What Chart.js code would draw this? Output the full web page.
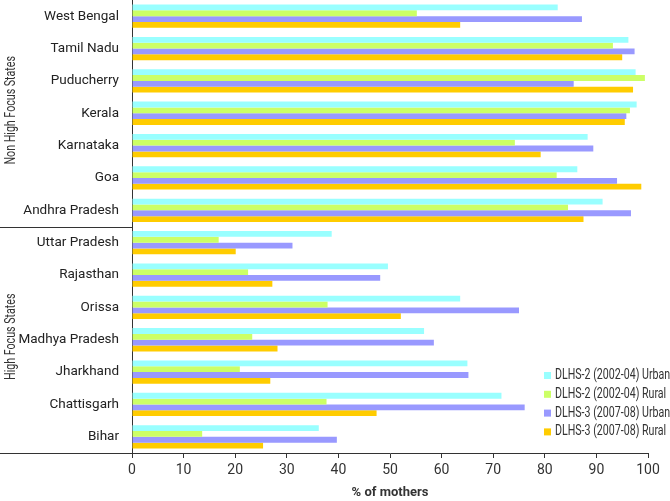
<!DOCTYPE html>
<html>
<head>
<meta charset="utf-8">
<script src="https://cdn.jsdelivr.net/npm/chart.js@4.4.1/dist/chart.umd.min.js"></script>
<style>
    html, body { margin: 0; padding: 0; background: #fff; }
    #wrap { width: 670px; height: 501px; position: relative; }
</style>
</head>
<body>
<div id="wrap"><canvas id="chart"></canvas></div>
<script>
// Top-to-bottom order as in the source figure
const states = [
    'West Bengal', 'Tamil Nadu', 'Puducherry', 'Kerala', 'Karnataka', 'Goa', 'Andhra Pradesh',
    'Uttar Pradesh', 'Rajasthan', 'Orissa', 'Madhya Pradesh', 'Jharkhand', 'Chattisgarh', 'Bihar',
];
const groupLabels = ['Non High Focus States', 'High Focus States'];
const seriesLabels = [
    'DLHS-2 (2002-04) Urban',
    'DLHS-2 (2002-04) Rural',
    'DLHS-3 (2007-08) Urban',
    'DLHS-3 (2007-08) Rural',
];
const dlhs2Urban = [82.5, 96.2, 97.6, 97.8, 88.3, 86.3, 91.2, 38.7, 49.6, 63.6, 56.6, 65.0, 71.6, 36.2];
const dlhs2Rural = [55.2, 93.2, 99.4, 96.5, 74.2, 82.3, 84.5, 16.8, 22.5, 37.9, 23.3, 20.9, 37.7, 13.6];
const dlhs3Urban = [87.2, 97.4, 85.6, 95.8, 89.4, 94.0, 96.7, 31.1, 48.1, 75.0, 58.5, 65.2, 76.1, 39.7];
const dlhs3Rural = [63.6, 95.0, 97.1, 95.5, 79.2, 98.7, 87.5, 20.1, 27.2, 52.1, 28.2, 26.8, 47.4, 25.4];
const xTicks = [0, 10, 20, 30, 40, 50, 60, 70, 80, 90, 100];
const xTitle = '% of mothers';

const colors = ['#99ffff', '#ccff66', '#9999ff', '#ffcc00'];
const FONT = 'Roboto, "Liberation Sans", sans-serif';
const INK = '#333333';

// the source uses a condensed face; squeeze canvas text horizontally
function narrowText(ctx, text, x, y, squeeze) {
    ctx.save();
    ctx.translate(x, y);
    ctx.scale(squeeze, 1);
    ctx.fillText(text, 0, 0);
    ctx.restore();
}

// frame lines + rotated group names in the label column, plus inset legend
const decor = {
    id: 'decor',
    afterDraw(chart) {
        const { ctx, chartArea: a, scales: { y } } = chart;
        const split = (y.getPixelForTick(6) + y.getPixelForTick(7)) / 2;
        ctx.save();
        ctx.strokeStyle = INK;
        ctx.lineWidth = 1;
        ctx.beginPath();
        ctx.moveTo(0, Math.round(split) + 0.5);
        ctx.lineTo(a.left, Math.round(split) + 0.5);
        ctx.moveTo(0, Math.round(a.bottom) + 0.5);
        ctx.lineTo(a.left, Math.round(a.bottom) + 0.5);
        ctx.stroke();

        ctx.fillStyle = INK;
        ctx.font = '14px ' + FONT;
        ctx.textAlign = 'center';
        ctx.textBaseline = 'middle';
        [[a.top, split], [split, a.bottom]].forEach(([t, b], i) => {
            ctx.save();
            ctx.translate(11, (t + b) / 2 - 3);
            ctx.rotate(-Math.PI / 2);
            narrowText(ctx, groupLabels[i], 0, 0, 0.76);
            ctx.restore();
        });

        ctx.textAlign = 'left';
        chart.data.datasets.forEach((ds, i) => {
            const cy = 375.5 + i * 18.8;
            ctx.fillStyle = ds.backgroundColor;
            ctx.fillRect(544, cy - 3.5, 7, 7);
            ctx.fillStyle = INK;
            narrowText(ctx, ds.label, 555, cy, 0.76);
        });
        ctx.restore();
    },
};

const seriesData = [dlhs2Urban, dlhs2Rural, dlhs3Urban, dlhs3Rural];

new Chart(document.getElementById('chart'), {
    type: 'bar',
    data: {
        labels: states,
        datasets: seriesLabels.map((label, i) => ({
            label,
            data: seriesData[i],
            backgroundColor: colors[i],
            borderWidth: 0,
            categoryPercentage: 0.72,
            barPercentage: 1.0,
        })),
    },
    options: {
        indexAxis: 'y',
        responsive: true,
        maintainAspectRatio: false,
        animation: false,
        layout: { padding: { top: 0, right: 22, left: 0, bottom: 0 } },
        plugins: {
            legend: { display: false },
            tooltip: { enabled: false },
        },
        scales: {
            x: {
                min: 0,
                max: 100,
                afterBuildTicks: s => { s.ticks = xTicks.map(v => ({ value: v })); },
                afterFit: s => { s.height = 48; },
                grid: { drawOnChartArea: false, color: INK, tickLength: 5 },
                border: { color: INK, width: 1 },
                ticks: { color: INK, font: { family: FONT, size: 14 }, padding: 4 },
                title: {
                    display: true,
                    text: xTitle,
                    color: INK,
                    font: { family: FONT, size: 13, weight: 'bold' },
                    padding: { top: 4, bottom: 0 },
                },
            },
            y: {
                afterFit: s => {
                    s.width = 132;
                    s.paddingTop = 0;
                    s.paddingBottom = 0;
                },
                grid: { display: false },
                border: { color: INK, width: 1 },
                ticks: { color: '#222222', font: { family: FONT, size: 13.5 }, padding: 5 },
            },
        },
    },
    plugins: [decor],
});
</script>
</body>
</html>
